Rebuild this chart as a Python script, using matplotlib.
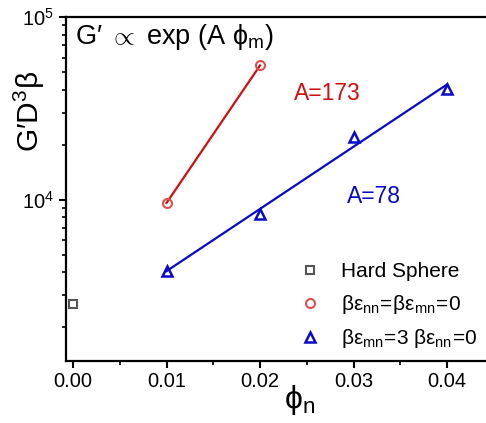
import numpy as np
import matplotlib
matplotlib.use("Agg")
import matplotlib.pyplot as plt
from matplotlib.ticker import LogLocator, MultipleLocator, NullFormatter

plt.rcParams['font.family'] = ['Liberation Sans', 'DejaVu Sans']
plt.rcParams['mathtext.fontset'] = 'custom'
plt.rcParams['mathtext.rm'] = 'Liberation Sans'
plt.rcParams['mathtext.it'] = 'Liberation Sans:italic'
plt.rcParams['mathtext.bf'] = 'Liberation Sans:bold'

# Data
hs_x = [0.0]
hs_y = [2700]
red_x = [0.01, 0.02]
red_y = [9600, 54300]
blue_x = [0.01, 0.02, 0.03, 0.04]
blue_y = [4060, 8400, 22000, 40200]
xticks = [0.00, 0.01, 0.02, 0.03, 0.04]
xticklabels = ["0.00", "0.01", "0.02", "0.03", "0.04"]
slope_labels = ["A=173", "A=78"]

W, H = 486, 423
fig = plt.figure(figsize=(W / 100, H / 100), dpi=100)
ax = fig.add_axes([0.1358, 0.1473, 0.8642, 0.8125])
ax.set_yscale('log')

RED = '#d01010'
BLUE = '#0a0ac8'

# lines
ax.plot(red_x, red_y, color=RED, lw=1.6, zorder=2)
coef = np.polyfit(blue_x, np.log(blue_y), 1)
fx = np.array([blue_x[0], blue_x[-1]])
ax.plot(fx, np.exp(np.polyval(coef, fx)), color=BLUE, lw=1.6, zorder=2)

ax.plot(hs_x, hs_y, ls='none', marker='s', ms=6, mfc='none', mec='#555555', mew=1.5,
        label='Hard Sphere', zorder=3)
ax.plot(red_x, red_y, ls='none', marker='o', ms=6.5, mfc='none', mec='#e05050', mew=1.5,
        label=r'$\mathregular{\beta\epsilon_{nn}\!=\!\beta\epsilon_{mn}\!=\!0}$', zorder=3)
ax.plot(blue_x, blue_y, ls='none', marker='^', ms=7, mfc='none', mec=BLUE, mew=1.8,
        label=r'$\mathregular{\beta\epsilon_{mn}\!=\!3\;\beta\epsilon_{nn}\!=\!0}$', zorder=3)

ax.set_xlim(-0.00075, 0.04417)
ax.set_ylim(1315, 1e5)
ax.set_xticks(xticks)
ax.set_xticklabels(xticklabels)
ax.xaxis.set_minor_locator(MultipleLocator(0.005))
ax.yaxis.set_major_locator(LogLocator(base=10, numticks=10))
ax.yaxis.set_minor_locator(LogLocator(base=10, subs=np.arange(2, 10), numticks=20))
ax.yaxis.set_minor_formatter(NullFormatter())

for s in ['left', 'bottom', 'top']:
    ax.spines[s].set_linewidth(1.6)
ax.spines['right'].set_visible(False)
ax.tick_params(which='major', direction='out', length=5, width=1.5, labelsize=14.5)
ax.tick_params(which='minor', direction='out', length=3, width=1.2)
ax.tick_params(axis='x', which='both', top=False)
ax.tick_params(axis='y', which='both', right=False)

ax.text(0.021, 0.985, r'G$\mathregular{\prime}$ $\propto$ exp (A $\mathregular{\phi_m}$)',
        transform=ax.transAxes, fontsize=19.5, va='top', ha='left')
fig.text(294 / W, 1 - 93 / H, slope_labels[0], fontsize=16.5, color=RED, va='center', ha='left')
fig.text(347 / W, 1 - 196 / H, slope_labels[1], fontsize=16.5, color=BLUE, va='center', ha='left')

ax.set_ylabel('G′D$\\mathregular{^3}$β', fontsize=21.5)
ax.yaxis.set_label_coords(-0.045, 0.724)
ax.set_xlabel(r'$\mathregular{\phi_n}$', fontsize=23)
ax.xaxis.set_label_coords(0.557, -0.065)

leg = ax.legend(loc='upper left', bbox_to_anchor=(0.56, 0.286), frameon=False,
                fontsize=15, handlelength=0.8, handletextpad=1.1, labelspacing=0.55,
                borderaxespad=0, borderpad=0)
fig.savefig('out.png', dpi=100)
